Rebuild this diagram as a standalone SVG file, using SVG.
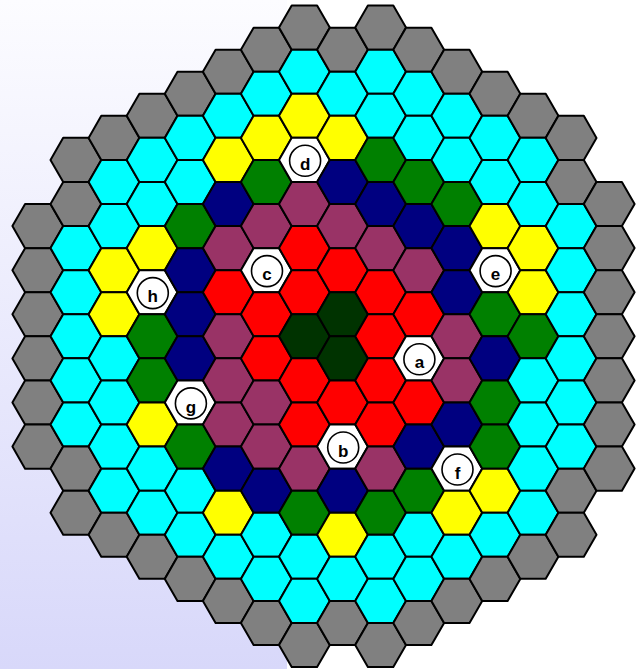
<svg xmlns="http://www.w3.org/2000/svg" xmlns:xlink="http://www.w3.org/1999/xlink" width="644" height="669" viewBox="0 0 644 669">
<defs>
<linearGradient id="bg" x1="0" y1="0" x2="0" y2="1">
<stop offset="0" stop-color="#fcfcff"/>
<stop offset="1" stop-color="#d8d8fa"/>
</linearGradient>
<path id="hx" d="M-25.4,0 L-12.7,-22.05 L12.7,-22.05 L25.4,0 L12.7,22.05 L-12.7,22.05 Z"/>
<style>
use{stroke:#000;stroke-width:2;stroke-linejoin:round}
.G{fill:#808080}.C{fill:#00ffff}.Y{fill:#ffff00}.Gr{fill:#008000}.N{fill:#000080}.M{fill:#993366}.R{fill:#ff0000}.D{fill:#003300}.W{fill:#ffffff}
.ring{fill:#fff;stroke:#000;stroke-width:1.6}
.lbl{font-family:"Liberation Sans",Arial,sans-serif;font-weight:bold;font-size:17px;text-anchor:middle;fill:#000}
</style>
</defs>
<rect x="0" y="0" width="644" height="669" fill="#ffffff"/>
<rect x="0" y="0" width="287" height="669" fill="url(#bg)"/>
<g id="board">
<g id="col0">
<use href="#hx" class="G" x="37.8" y="226.1"/><use href="#hx" class="G" x="37.8" y="270.2"/><use href="#hx" class="G" x="37.8" y="314.3"/><use href="#hx" class="G" x="37.8" y="358.4"/><use href="#hx" class="G" x="37.8" y="402.5"/><use href="#hx" class="G" x="37.8" y="446.6"/>
</g>
<g id="col1">
<use href="#hx" class="G" x="75.9" y="159.9"/><use href="#hx" class="G" x="75.9" y="204.0"/><use href="#hx" class="C" x="75.9" y="248.1"/><use href="#hx" class="C" x="75.9" y="292.2"/><use href="#hx" class="C" x="75.9" y="336.3"/><use href="#hx" class="C" x="75.9" y="380.4"/><use href="#hx" class="C" x="75.9" y="424.5"/><use href="#hx" class="G" x="75.9" y="468.6"/><use href="#hx" class="G" x="75.9" y="512.7"/>
</g>
<g id="col2">
<use href="#hx" class="G" x="114.0" y="137.9"/><use href="#hx" class="C" x="114.0" y="182.0"/><use href="#hx" class="C" x="114.0" y="226.1"/><use href="#hx" class="Y" x="114.0" y="270.2"/><use href="#hx" class="Y" x="114.0" y="314.3"/><use href="#hx" class="C" x="114.0" y="358.4"/><use href="#hx" class="C" x="114.0" y="402.5"/><use href="#hx" class="C" x="114.0" y="446.6"/><use href="#hx" class="C" x="114.0" y="490.7"/><use href="#hx" class="G" x="114.0" y="534.8"/>
</g>
<g id="col3">
<use href="#hx" class="G" x="152.1" y="115.8"/><use href="#hx" class="C" x="152.1" y="159.9"/><use href="#hx" class="C" x="152.1" y="204.0"/><use href="#hx" class="Y" x="152.1" y="248.1"/><use href="#hx" class="W" x="152.1" y="292.2"/><use href="#hx" class="Gr" x="152.1" y="336.3"/><use href="#hx" class="Gr" x="152.1" y="380.4"/><use href="#hx" class="Y" x="152.1" y="424.5"/><use href="#hx" class="C" x="152.1" y="468.6"/><use href="#hx" class="C" x="152.1" y="512.7"/><use href="#hx" class="G" x="152.1" y="556.8"/>
</g>
<g id="col4">
<use href="#hx" class="G" x="190.2" y="93.8"/><use href="#hx" class="C" x="190.2" y="137.9"/><use href="#hx" class="C" x="190.2" y="182.0"/><use href="#hx" class="Gr" x="190.2" y="226.1"/><use href="#hx" class="N" x="190.2" y="270.2"/><use href="#hx" class="N" x="190.2" y="314.3"/><use href="#hx" class="N" x="190.2" y="358.4"/><use href="#hx" class="W" x="190.2" y="402.5"/><use href="#hx" class="Gr" x="190.2" y="446.6"/><use href="#hx" class="C" x="190.2" y="490.7"/><use href="#hx" class="C" x="190.2" y="534.8"/><use href="#hx" class="G" x="190.2" y="578.9"/>
</g>
<g id="col5">
<use href="#hx" class="G" x="228.3" y="71.7"/><use href="#hx" class="C" x="228.3" y="115.8"/><use href="#hx" class="Y" x="228.3" y="159.9"/><use href="#hx" class="N" x="228.3" y="204.0"/><use href="#hx" class="M" x="228.3" y="248.1"/><use href="#hx" class="R" x="228.3" y="292.2"/><use href="#hx" class="M" x="228.3" y="336.3"/><use href="#hx" class="M" x="228.3" y="380.4"/><use href="#hx" class="M" x="228.3" y="424.5"/><use href="#hx" class="N" x="228.3" y="468.6"/><use href="#hx" class="Y" x="228.3" y="512.7"/><use href="#hx" class="C" x="228.3" y="556.8"/><use href="#hx" class="G" x="228.3" y="600.9"/>
</g>
<g id="col6">
<use href="#hx" class="G" x="266.3" y="49.7"/><use href="#hx" class="C" x="266.3" y="93.8"/><use href="#hx" class="Y" x="266.3" y="137.9"/><use href="#hx" class="Gr" x="266.3" y="182.0"/><use href="#hx" class="M" x="266.3" y="226.1"/><use href="#hx" class="W" x="266.3" y="270.2"/><use href="#hx" class="R" x="266.3" y="314.3"/><use href="#hx" class="R" x="266.3" y="358.4"/><use href="#hx" class="M" x="266.3" y="402.5"/><use href="#hx" class="M" x="266.3" y="446.6"/><use href="#hx" class="N" x="266.3" y="490.7"/><use href="#hx" class="C" x="266.3" y="534.8"/><use href="#hx" class="C" x="266.3" y="578.9"/><use href="#hx" class="G" x="266.3" y="623.0"/>
</g>
<g id="col7">
<use href="#hx" class="G" x="304.4" y="27.6"/><use href="#hx" class="C" x="304.4" y="71.7"/><use href="#hx" class="Y" x="304.4" y="115.8"/><use href="#hx" class="W" x="304.4" y="159.9"/><use href="#hx" class="M" x="304.4" y="204.0"/><use href="#hx" class="R" x="304.4" y="248.1"/><use href="#hx" class="R" x="304.4" y="292.2"/><use href="#hx" class="D" x="304.4" y="336.3"/><use href="#hx" class="R" x="304.4" y="380.4"/><use href="#hx" class="R" x="304.4" y="424.5"/><use href="#hx" class="M" x="304.4" y="468.6"/><use href="#hx" class="Gr" x="304.4" y="512.7"/><use href="#hx" class="C" x="304.4" y="556.8"/><use href="#hx" class="C" x="304.4" y="600.9"/><use href="#hx" class="G" x="304.4" y="645.0"/>
</g>
<g id="col8">
<use href="#hx" class="G" x="342.5" y="49.7"/><use href="#hx" class="C" x="342.5" y="93.8"/><use href="#hx" class="Y" x="342.5" y="137.9"/><use href="#hx" class="N" x="342.5" y="182.0"/><use href="#hx" class="M" x="342.5" y="226.1"/><use href="#hx" class="R" x="342.5" y="270.2"/><use href="#hx" class="D" x="342.5" y="314.3"/><use href="#hx" class="D" x="342.5" y="358.4"/><use href="#hx" class="R" x="342.5" y="402.5"/><use href="#hx" class="W" x="342.5" y="446.6"/><use href="#hx" class="N" x="342.5" y="490.7"/><use href="#hx" class="Y" x="342.5" y="534.8"/><use href="#hx" class="C" x="342.5" y="578.9"/><use href="#hx" class="G" x="342.5" y="623.0"/>
</g>
<g id="col9">
<use href="#hx" class="G" x="380.6" y="27.6"/><use href="#hx" class="C" x="380.6" y="71.7"/><use href="#hx" class="C" x="380.6" y="115.8"/><use href="#hx" class="Gr" x="380.6" y="159.9"/><use href="#hx" class="N" x="380.6" y="204.0"/><use href="#hx" class="M" x="380.6" y="248.1"/><use href="#hx" class="R" x="380.6" y="292.2"/><use href="#hx" class="R" x="380.6" y="336.3"/><use href="#hx" class="R" x="380.6" y="380.4"/><use href="#hx" class="R" x="380.6" y="424.5"/><use href="#hx" class="M" x="380.6" y="468.6"/><use href="#hx" class="Gr" x="380.6" y="512.7"/><use href="#hx" class="C" x="380.6" y="556.8"/><use href="#hx" class="C" x="380.6" y="600.9"/><use href="#hx" class="G" x="380.6" y="645.0"/>
</g>
<g id="col10">
<use href="#hx" class="G" x="418.7" y="49.7"/><use href="#hx" class="C" x="418.7" y="93.8"/><use href="#hx" class="C" x="418.7" y="137.9"/><use href="#hx" class="Gr" x="418.7" y="182.0"/><use href="#hx" class="N" x="418.7" y="226.1"/><use href="#hx" class="M" x="418.7" y="270.2"/><use href="#hx" class="R" x="418.7" y="314.3"/><use href="#hx" class="W" x="418.7" y="358.4"/><use href="#hx" class="R" x="418.7" y="402.5"/><use href="#hx" class="N" x="418.7" y="446.6"/><use href="#hx" class="Gr" x="418.7" y="490.7"/><use href="#hx" class="C" x="418.7" y="534.8"/><use href="#hx" class="C" x="418.7" y="578.9"/><use href="#hx" class="G" x="418.7" y="623.0"/>
</g>
<g id="col11">
<use href="#hx" class="G" x="456.8" y="71.7"/><use href="#hx" class="C" x="456.8" y="115.8"/><use href="#hx" class="C" x="456.8" y="159.9"/><use href="#hx" class="Gr" x="456.8" y="204.0"/><use href="#hx" class="N" x="456.8" y="248.1"/><use href="#hx" class="N" x="456.8" y="292.2"/><use href="#hx" class="M" x="456.8" y="336.3"/><use href="#hx" class="M" x="456.8" y="380.4"/><use href="#hx" class="N" x="456.8" y="424.5"/><use href="#hx" class="W" x="456.8" y="468.6"/><use href="#hx" class="Y" x="456.8" y="512.7"/><use href="#hx" class="C" x="456.8" y="556.8"/><use href="#hx" class="G" x="456.8" y="600.9"/>
</g>
<g id="col12">
<use href="#hx" class="G" x="494.9" y="93.8"/><use href="#hx" class="C" x="494.9" y="137.9"/><use href="#hx" class="C" x="494.9" y="182.0"/><use href="#hx" class="Y" x="494.9" y="226.1"/><use href="#hx" class="W" x="494.9" y="270.2"/><use href="#hx" class="Gr" x="494.9" y="314.3"/><use href="#hx" class="N" x="494.9" y="358.4"/><use href="#hx" class="Gr" x="494.9" y="402.5"/><use href="#hx" class="Gr" x="494.9" y="446.6"/><use href="#hx" class="Y" x="494.9" y="490.7"/><use href="#hx" class="C" x="494.9" y="534.8"/><use href="#hx" class="G" x="494.9" y="578.9"/>
</g>
<g id="col13">
<use href="#hx" class="G" x="533.0" y="115.8"/><use href="#hx" class="C" x="533.0" y="159.9"/><use href="#hx" class="C" x="533.0" y="204.0"/><use href="#hx" class="Y" x="533.0" y="248.1"/><use href="#hx" class="Y" x="533.0" y="292.2"/><use href="#hx" class="Gr" x="533.0" y="336.3"/><use href="#hx" class="C" x="533.0" y="380.4"/><use href="#hx" class="C" x="533.0" y="424.5"/><use href="#hx" class="C" x="533.0" y="468.6"/><use href="#hx" class="C" x="533.0" y="512.7"/><use href="#hx" class="G" x="533.0" y="556.8"/>
</g>
<g id="col14">
<use href="#hx" class="G" x="571.1" y="137.9"/><use href="#hx" class="G" x="571.1" y="182.0"/><use href="#hx" class="C" x="571.1" y="226.1"/><use href="#hx" class="C" x="571.1" y="270.2"/><use href="#hx" class="C" x="571.1" y="314.3"/><use href="#hx" class="C" x="571.1" y="358.4"/><use href="#hx" class="C" x="571.1" y="402.5"/><use href="#hx" class="C" x="571.1" y="446.6"/><use href="#hx" class="G" x="571.1" y="490.7"/><use href="#hx" class="G" x="571.1" y="534.8"/>
</g>
<g id="col15">
<use href="#hx" class="G" x="609.2" y="204.0"/><use href="#hx" class="G" x="609.2" y="248.1"/><use href="#hx" class="G" x="609.2" y="292.2"/><use href="#hx" class="G" x="609.2" y="336.3"/><use href="#hx" class="G" x="609.2" y="380.4"/><use href="#hx" class="G" x="609.2" y="424.5"/><use href="#hx" class="G" x="609.2" y="468.6"/>
</g>
</g>
<g id="labels">
<g id="label-a"><circle class="ring" cx="419.4" cy="359.3" r="15.5"/><text class="lbl" x="419.4" y="368.4">a</text></g>
<g id="label-b"><circle class="ring" cx="343.2" cy="447.5" r="15.5"/><text class="lbl" x="343.2" y="456.6">b</text></g>
<g id="label-c"><circle class="ring" cx="267.0" cy="271.1" r="15.5"/><text class="lbl" x="267.0" y="280.2">c</text></g>
<g id="label-d"><circle class="ring" cx="305.1" cy="160.8" r="15.5"/><text class="lbl" x="305.1" y="169.9">d</text></g>
<g id="label-e"><circle class="ring" cx="495.6" cy="271.1" r="15.5"/><text class="lbl" x="495.6" y="280.2">e</text></g>
<g id="label-f"><circle class="ring" cx="457.5" cy="469.5" r="15.5"/><text class="lbl" x="457.5" y="478.6">f</text></g>
<g id="label-g"><circle class="ring" cx="190.9" cy="403.4" r="15.5"/><text class="lbl" x="190.9" y="412.5">g</text></g>
<g id="label-h"><circle class="ring" cx="152.8" cy="293.1" r="15.5"/><text class="lbl" x="152.8" y="302.2">h</text></g>
</g>
</svg>
